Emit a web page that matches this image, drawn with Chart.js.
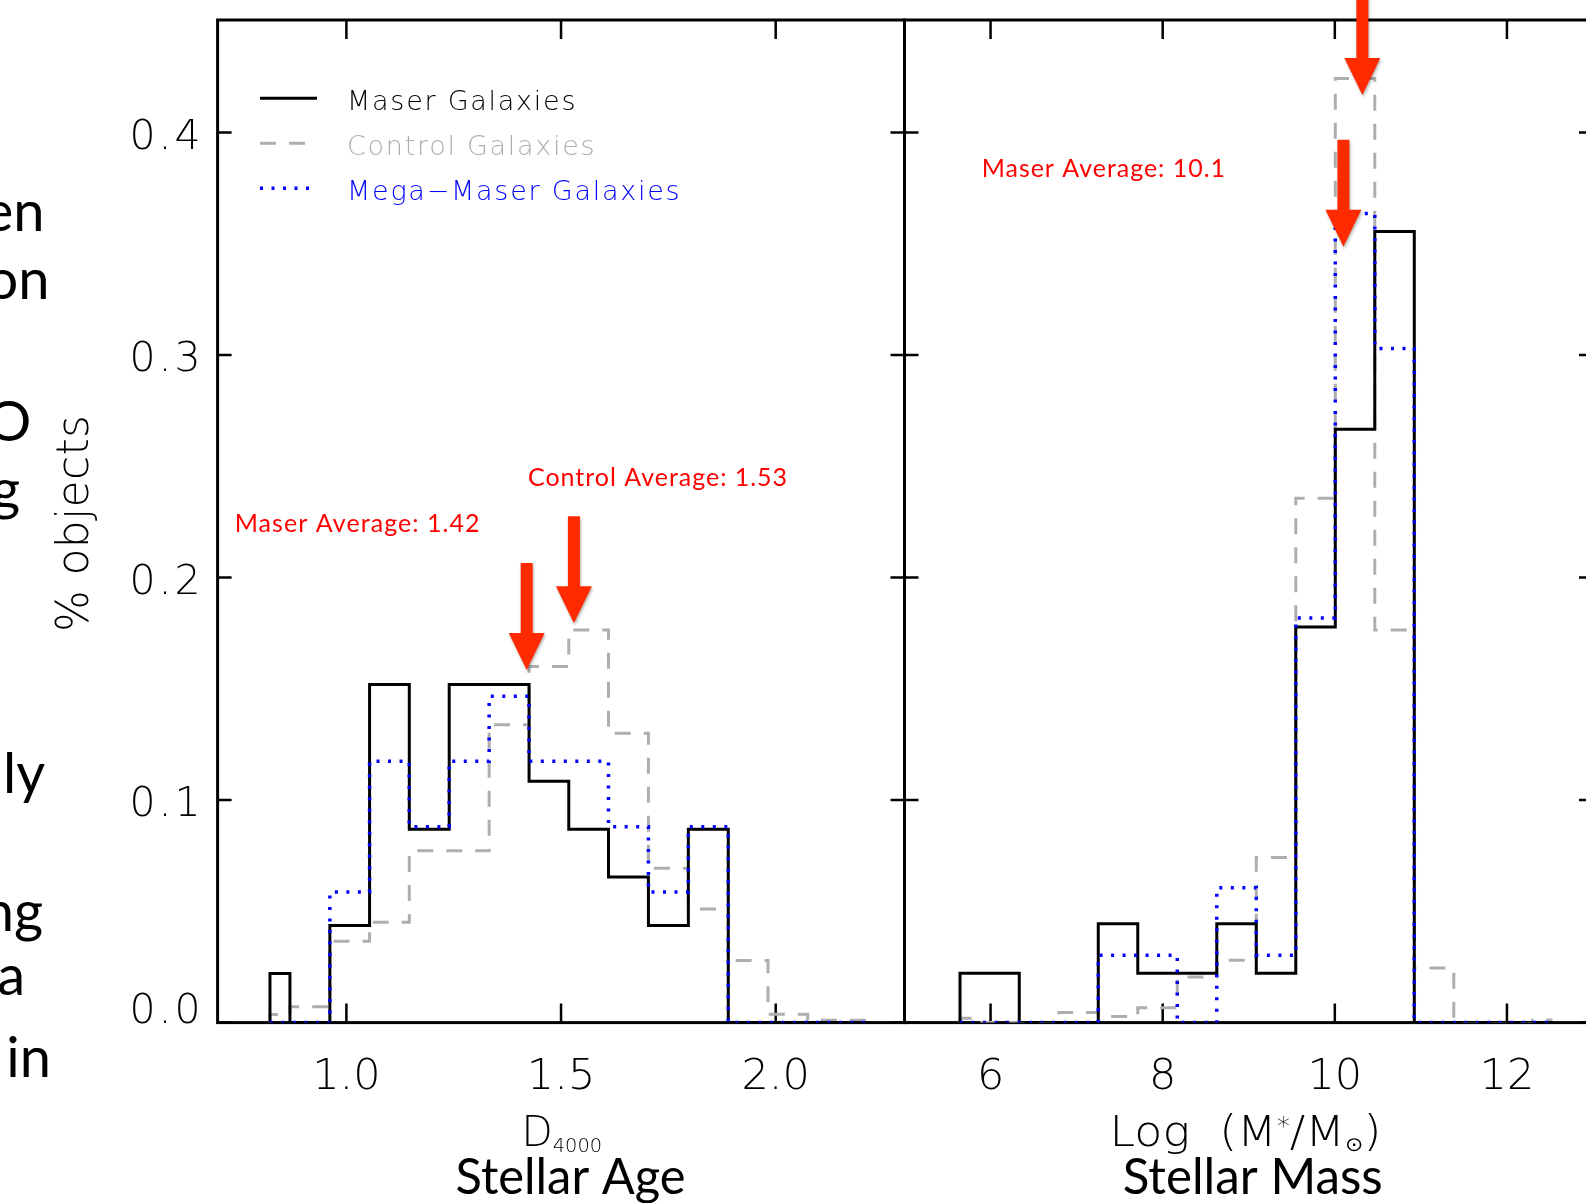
<!DOCTYPE html>
<html lang="en">
<head>
<meta charset="UTF-8">
<title>Maser host galaxies: stellar age and stellar mass</title>
<script src="https://cdn.jsdelivr.net/npm/chart.js"></script>
<style>
  body { margin: 0; background: #fff; overflow: hidden; }
  .stage { position: relative; width: 1586px; height: 1203px; overflow: hidden; }
  .stage canvas { position: absolute; top: 0; }
  #ageChart { left: 0; }
  #massChart { left: 880px; }
</style>
</head>
<body>
<div class="stage">
  <canvas id="ageChart" width="906" height="1203"></canvas>
  <canvas id="massChart" width="760" height="1203"></canvas>
</div>
<script>
// histogram bin centres and fraction of objects per bin
const seriesNames = ['Maser Galaxies', 'Control Galaxies', 'Mega\u2212Maser Galaxies'];

const ageBins = [0.822, 0.915, 1.008, 1.100, 1.193, 1.286, 1.379, 1.472, 1.564, 1.657, 1.750, 1.843, 1.936, 2.028, 2.121, 2.214];
const ageMaser = [0.0221, 0, 0.0436, 0.152, 0.0869, 0.152, 0.152, 0.1085, 0.0869, 0.0654, 0.0436, 0.0869, 0, 0, 0, 0];
const ageControl = [0.0036, 0.0071, 0.0366, 0.0451, 0.0772, 0.0772, 0.1339, 0.160, 0.1765, 0.130, 0.0694, 0.051, 0.0279, 0.0037, 0.001, 0.001];
const ageMega = [0, 0, 0.0587, 0.1175, 0.088, 0.1175, 0.1467, 0.1175, 0.1175, 0.088, 0.0587, 0.088, 0, 0, 0, 0];

const massBins = [5.645, 6.104, 6.563, 7.022, 7.481, 7.940, 8.399, 8.858, 9.317, 9.776, 10.235, 10.694, 11.153, 11.612, 12.071, 12.530];
const massMaser = [0.0222, 0.0222, 0, 0, 0.0444, 0.0222, 0.0222, 0.0444, 0.0222, 0.1778, 0.2667, 0.3556, 0, 0, 0, 0];
const massControl = [0.002, 0, 0, 0.0045, 0.0027, 0.0067, 0.0205, 0.028, 0.0742, 0.2357, 0.4243, 0.1765, 0.0245, 0, 0, 0.0012];
const massMega = [0, 0, 0, 0, 0.0303, 0.0303, 0, 0.0606, 0.0303, 0.1818, 0.3636, 0.303, 0, 0, 0, 0];

// sample averages marked with arrows (maser, control)
const ageAverages = [1.42, 1.53];
const massAverages = [10.1, 10.32];

const fracTicks = [0, 0.1, 0.2, 0.3, 0.4];
const fracLabels = ['0.0', '0.1', '0.2', '0.3', '0.4'];
const ageTicks = [1.0, 1.5, 2.0];
const ageLabels = ['1.0', '1.5', '2.0'];
const massTicks = [6, 8, 10, 12];
const massLabels = ['6', '8', '10', '12'];

const thin = px => `200 ${px}px "DejaVu Sans", sans-serif`;
const sans = px => `${px}px Lato, "Open Sans", sans-serif`;
const RED = '#ff0000';
const ARROW = '#ff2a00';

// draw text from `left` so that it spans `width` px (letter spacing to widen, squeeze to narrow)
function spanText(ctx, text, left, baseline, width) {
  ctx.save();
  ctx.textAlign = 'left';
  ctx.letterSpacing = '0px';
  const natural = ctx.measureText(text).width;
  if (width > natural && text.length > 1 && 'letterSpacing' in ctx) {
    ctx.letterSpacing = ((width - natural) / (text.length - 1)).toFixed(2) + 'px';
    ctx.fillText(text, left, baseline);
  } else {
    ctx.fillText(text, left, baseline, width);
  }
  ctx.restore();
}

// label made of pieces with own size / vertical shift (sub- and superscripts), stretched to `width`
function spanRuns(ctx, runs, left, baseline, width) {
  ctx.save();
  ctx.textAlign = 'left';
  let natural = 0;
  const widths = runs.map(r => { ctx.font = thin(r.size); const w = ctx.measureText(r.text).width; natural += w; return w; });
  ctx.translate(left, baseline);
  ctx.scale(width / natural, 1);
  let cx = 0;
  runs.forEach((r, i) => { ctx.font = thin(r.size); ctx.fillText(r.text, cx, r.dy || 0); cx += widths[i]; });
  ctx.restore();
}

function drawArrow(ctx, px, tipY) {
  const len = 107, head = 37, shaft = 12, wing = 36;
  ctx.save();
  ctx.fillStyle = ARROW;
  ctx.shadowColor = 'rgba(0,0,0,0.3)';
  ctx.shadowBlur = 3;
  ctx.shadowOffsetX = 1;
  ctx.shadowOffsetY = 2;
  ctx.beginPath();
  ctx.moveTo(px - shaft / 2, tipY - len);
  ctx.lineTo(px + shaft / 2, tipY - len);
  ctx.lineTo(px + shaft / 2, tipY - head);
  ctx.lineTo(px + wing / 2, tipY - head);
  ctx.lineTo(px, tipY);
  ctx.lineTo(px - wing / 2, tipY - head);
  ctx.lineTo(px - shaft / 2, tipY - head);
  ctx.closePath();
  ctx.fill();
  ctx.restore();
}

// box with inward ticks on all four sides, plus tick labels
const frame = {
  id: 'frame',
  beforeDatasetsDraw(chart, args, opts) {
    const { ctx, chartArea: a } = chart;
    const x = chart.scales.x, y = chart.scales.y;
    ctx.save();
    ctx.strokeStyle = '#000';
    ctx.lineWidth = 3;
    ctx.strokeRect(a.left, a.top, a.right - a.left, a.bottom - a.top);
    ctx.lineWidth = 2.5;
    ctx.beginPath();
    opts.ticks.forEach(v => {
      const px = x.getPixelForValue(v);
      ctx.moveTo(px, a.bottom); ctx.lineTo(px, a.bottom - 19);
      ctx.moveTo(px, a.top); ctx.lineTo(px, a.top + 19);
    });
    fracTicks.forEach(v => {
      const py = y.getPixelForValue(v);
      ctx.moveTo(a.left, py); ctx.lineTo(a.left + 14, py);
      ctx.moveTo(a.right, py); ctx.lineTo(a.right - 14, py);
    });
    ctx.stroke();

    ctx.fillStyle = '#000';
    ctx.font = thin(43);
    ctx.textAlign = 'center';
    opts.ticks.forEach((v, i) => ctx.fillText(opts.labels[i], x.getPixelForValue(v), a.bottom + 66));
    if (opts.yLabels) {
      ctx.font = thin(41);
      ctx.letterSpacing = '3px';
      ctx.textAlign = 'right';
      fracTicks.forEach((v, i) => {
        // keep the bottom label above the x axis line
        const base = Math.min(y.getPixelForValue(v) + 16, a.bottom);
        ctx.fillText(fracLabels[i], a.left - 14, base);
      });
    }
    ctx.restore();
  }
};

// step outline starts from the baseline at the first bin
const points = (xs, ys) => [{ x: xs[0], y: 0 }].concat(xs.map((v, i) => ({ x: v, y: ys[i] })));

function histogram(id, bins, maser, control, mega, xmin, xmax, padding, frameOpts, notes) {
  return new Chart(document.getElementById(id), {
    type: 'line',
    data: {
      datasets: [
        { label: seriesNames[0], data: points(bins, maser), borderColor: '#000000', borderWidth: 3, order: 1 },
        { label: seriesNames[1], data: points(bins, control), borderColor: '#aeaeae', borderWidth: 3, borderDash: [16, 13], order: 2 },
        { label: seriesNames[2], data: points(bins, mega), borderColor: '#0000ff', borderWidth: 3.5, borderDash: [3, 8.5], order: 0 }
      ].map(ds => Object.assign(ds, { stepped: 'middle', pointRadius: 0, fill: false, tension: 0, borderJoinStyle: 'miter' }))
    },
    options: {
      responsive: false,
      animation: false,
      devicePixelRatio: 1,
      layout: { padding },
      scales: {
        x: { type: 'linear', min: xmin, max: xmax, display: false },
        y: { type: 'linear', min: 0, max: 0.4506, display: false }
      },
      plugins: { legend: { display: false }, tooltip: { enabled: false }, frame: frameOpts }
    },
    plugins: [frame, notes]
  });
}

// left panel: D4000 break, slide text, y title, legend
const slideText = [['en', 44.5, 231], ['on', 49.6, 299], ['O', 31.4, 441], ['g', 20, 509],
                   ['ly', 45, 793], ['ng', 43, 931], ['a', 25, 995], ['in', 51, 1077]];

const ageNotes = {
  id: 'ageNotes',
  afterDraw(chart) {
    const { ctx, scales: { x, y } } = chart;
    ctx.save();
    ctx.fillStyle = '#000';
    ctx.font = sans(56);
    ctx.textAlign = 'right';
    slideText.forEach(([t, right, base]) => ctx.fillText(t, right, base));

    ctx.save();
    ctx.translate(88, 632);
    ctx.rotate(-Math.PI / 2);
    ctx.font = thin(44);
    spanText(ctx, '% objects', 0, 0, 217);
    ctx.restore();

    const legendWidths = [228.5, 247.7, 332.7];
    chart.data.datasets.forEach((ds, row) => {
      const ly = 98.3 + row * 45;
      ctx.strokeStyle = ds.borderColor;
      ctx.lineWidth = ds.borderWidth;
      ctx.setLineDash(ds.borderDash || []);
      ctx.beginPath(); ctx.moveTo(260, ly); ctx.lineTo(317, ly); ctx.stroke();
      ctx.setLineDash([]);
      ctx.fillStyle = ds.borderColor;
      ctx.font = thin(27);
      spanText(ctx, ds.label, 347, ly + 11.5, legendWidths[row]);
    });

    ctx.fillStyle = '#000';
    spanRuns(ctx, [{ text: 'D', size: 42 }, { text: '4000', size: 20, dy: 6 }], 521.5, 1146, 80.5);
    ctx.font = sans(50);
    spanText(ctx, 'Stellar Age', 455.5, 1193.5, 230);

    ctx.fillStyle = RED;
    ctx.font = sans(25);
    spanText(ctx, 'Maser Average: ' + ageAverages[0].toFixed(2), 234.7, 532, 245);
    spanText(ctx, 'Control Average: ' + ageAverages[1].toFixed(2), 528, 486, 259);
    drawArrow(ctx, x.getPixelForValue(ageAverages[0]), y.getPixelForValue(0.1585));
    drawArrow(ctx, x.getPixelForValue(ageAverages[1]), y.getPixelForValue(0.1795));
    ctx.restore();
  }
};

// right panel: stellar mass (page coordinates, canvas starts at x = 880)
const massNotes = {
  id: 'massNotes',
  afterDraw(chart) {
    const { ctx, scales: { x, y } } = chart;
    ctx.save();
    ctx.translate(-880, 0);
    ctx.fillStyle = '#000';
    spanRuns(ctx, [
      { text: 'Log  (M', size: 42 },
      { text: '*', size: 24, dy: -12 },
      { text: '/M', size: 42 },
      { text: '\u2299', size: 20, dy: 5 },
      { text: ')', size: 42 }
    ], 1109.5, 1146, 272);
    ctx.font = sans(50);
    spanText(ctx, 'Stellar Mass', 1122.7, 1193.5, 260);

    ctx.fillStyle = RED;
    ctx.font = sans(25);
    spanText(ctx, 'Maser Average: ' + massAverages[0].toFixed(1), 981.7, 177.3, 243.3);
    ctx.restore();
    drawArrow(ctx, x.getPixelForValue(massAverages[0]), y.getPixelForValue(0.3487));
    drawArrow(ctx, x.getPixelForValue(massAverages[1]), y.getPixelForValue(0.4169));
  }
};

histogram('ageChart', ageBins, ageMaser, ageControl, ageMega, 0.7, 2.3,
  { left: 217.6, right: 1.5, top: 20, bottom: 180.4 },
  { ticks: ageTicks, labels: ageLabels, yLabels: true }, ageNotes);

histogram('massChart', massBins, massMaser, massControl, massMega, 5, 13,
  { left: 24.5, right: 47, top: 20, bottom: 180.4 },
  { ticks: massTicks, labels: massLabels, yLabels: false }, massNotes);
</script>
</body>
</html>
